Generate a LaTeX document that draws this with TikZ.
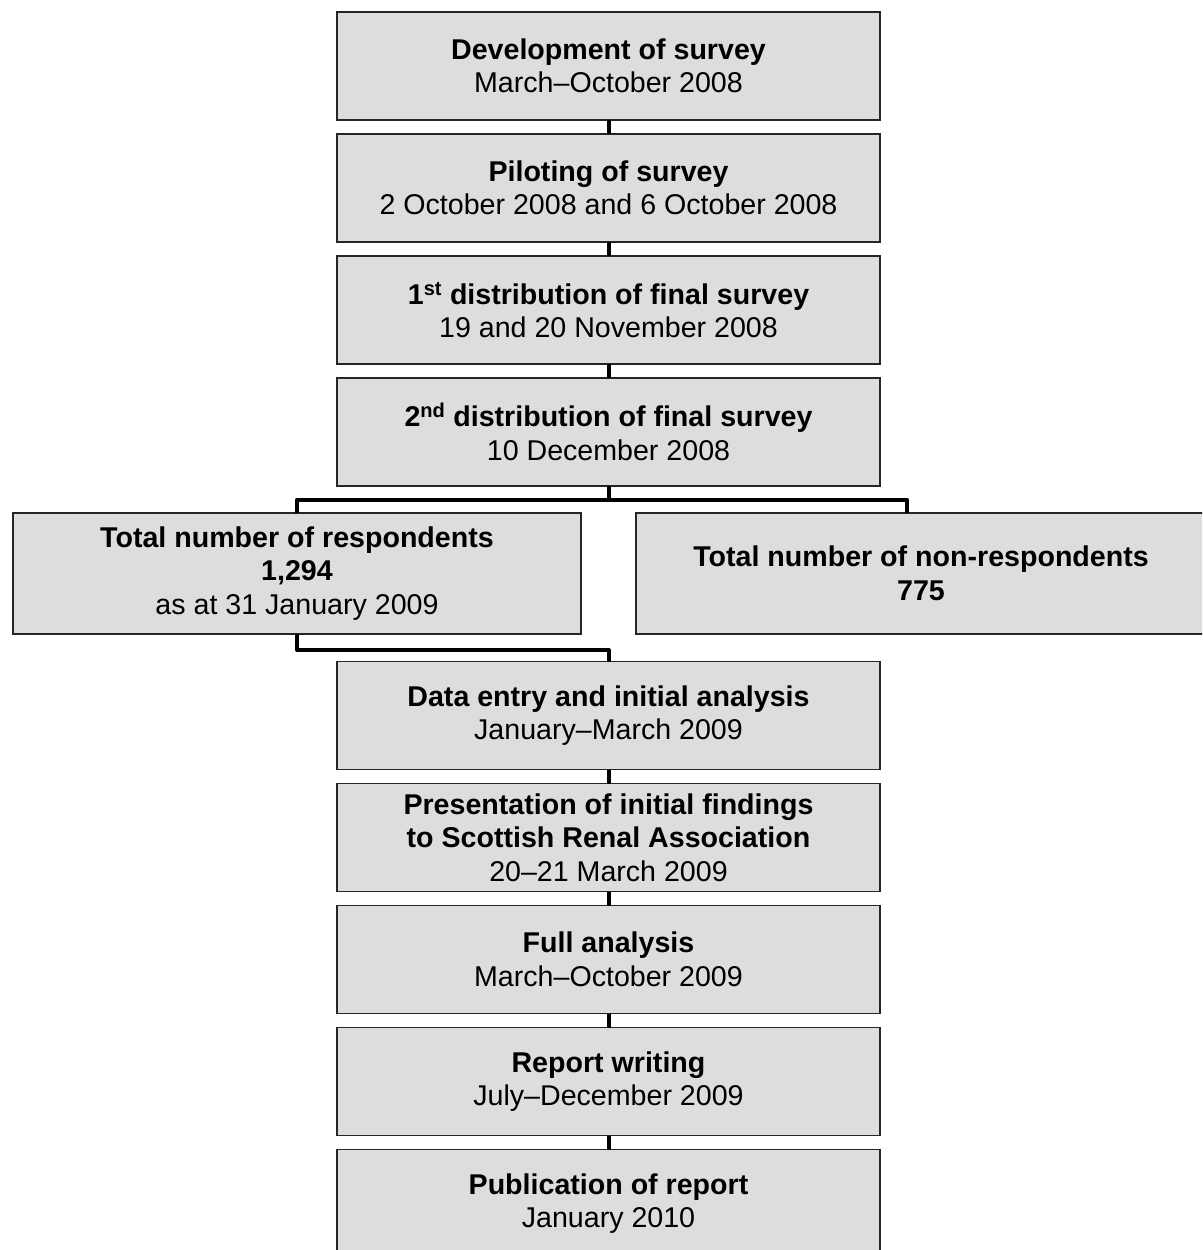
\documentclass[tikz,border=0pt]{standalone}
\usepackage{fontspec}
\setmainfont{Liberation Sans}
\begin{document}
\begin{tikzpicture}[x=1pt,y=-1pt,
  box/.style={draw=black!85, line width=1.6pt, fill=boxgray, inner sep=0pt, outer sep=0pt,
    minimum height=108pt, align=center, font=\fontsize{28.6}{33.5}\selectfont},
  mainbox/.style={box, minimum width=543pt},
  sidebox/.style={box, minimum width=568pt, minimum height=121pt},
  conn/.style={draw=black, line width=4pt, line join=round}]
\definecolor{boxgray}{HTML}{DDDDDD}
\clip (0,0) rectangle (1202,1250);
\fill[white] (0,0) rectangle (1202,1250);
% main column
\node[mainbox] (b1) at (608.5,66) {{\bfseries Development of survey}\\March--October 2008};
\node[mainbox] (b2) at (608.5,188) {{\bfseries Piloting of survey}\\2 October 2008 and 6 October 2008};
\node[mainbox] (b3) at (608.5,310) {{\bfseries 1\textsuperscript{st} distribution of final survey}\\19 and 20 November 2008};
\node[mainbox] (b4) at (608.5,432) {{\bfseries 2\textsuperscript{nd} distribution of final survey}\\10 December 2008};
% split
\node[sidebox] (resp) at (297,573.5) {{\bfseries Total number of respondents}\\{\bfseries 1,294}\\as at 31 January 2009};
\node[sidebox, minimum width=570pt] (nonresp) at (921,573.5) {{\bfseries Total number of non-respondents}\\{\bfseries 775}};
% lower column
\node[mainbox] (b5) at (608.5,715.5) {{\bfseries Data entry and initial analysis}\\January--March 2009};
\node[mainbox] (b6) at (608.5,837.5) {{\bfseries Presentation of initial findings}\\{\bfseries to Scottish Renal Association}\\20--21 March 2009};
\node[mainbox] (b7) at (608.5,959.5) {{\bfseries Full analysis}\\March--October 2009};
\node[mainbox] (b8) at (608.5,1081.5) {{\bfseries Report writing}\\July--December 2009};
\node[mainbox] (b9) at (608.5,1203.5) {{\bfseries Publication of report}\\January 2010};
% connectors
\draw[conn] (b1.south) -- (b2.north);
\draw[conn] (b2.south) -- (b3.north);
\draw[conn] (b3.south) -- (b4.north);
\coordinate (jy) at (0,499.5);
\coordinate (rdrop) at (907,513);
\draw[conn] (b4.south) -- (b4.south |- jy);
\draw[conn] (resp.north) -- (resp.north |- jy) -- (rdrop |- jy) -- (rdrop);
\draw[conn] (resp.south) -- ++(0,16) -| (b5.north);
\draw[conn] (b5.south) -- (b6.north);
\draw[conn] (b6.south) -- (b7.north);
\draw[conn] (b7.south) -- (b8.north);
\draw[conn] (b8.south) -- (b9.north);
\end{tikzpicture}
\end{document}
